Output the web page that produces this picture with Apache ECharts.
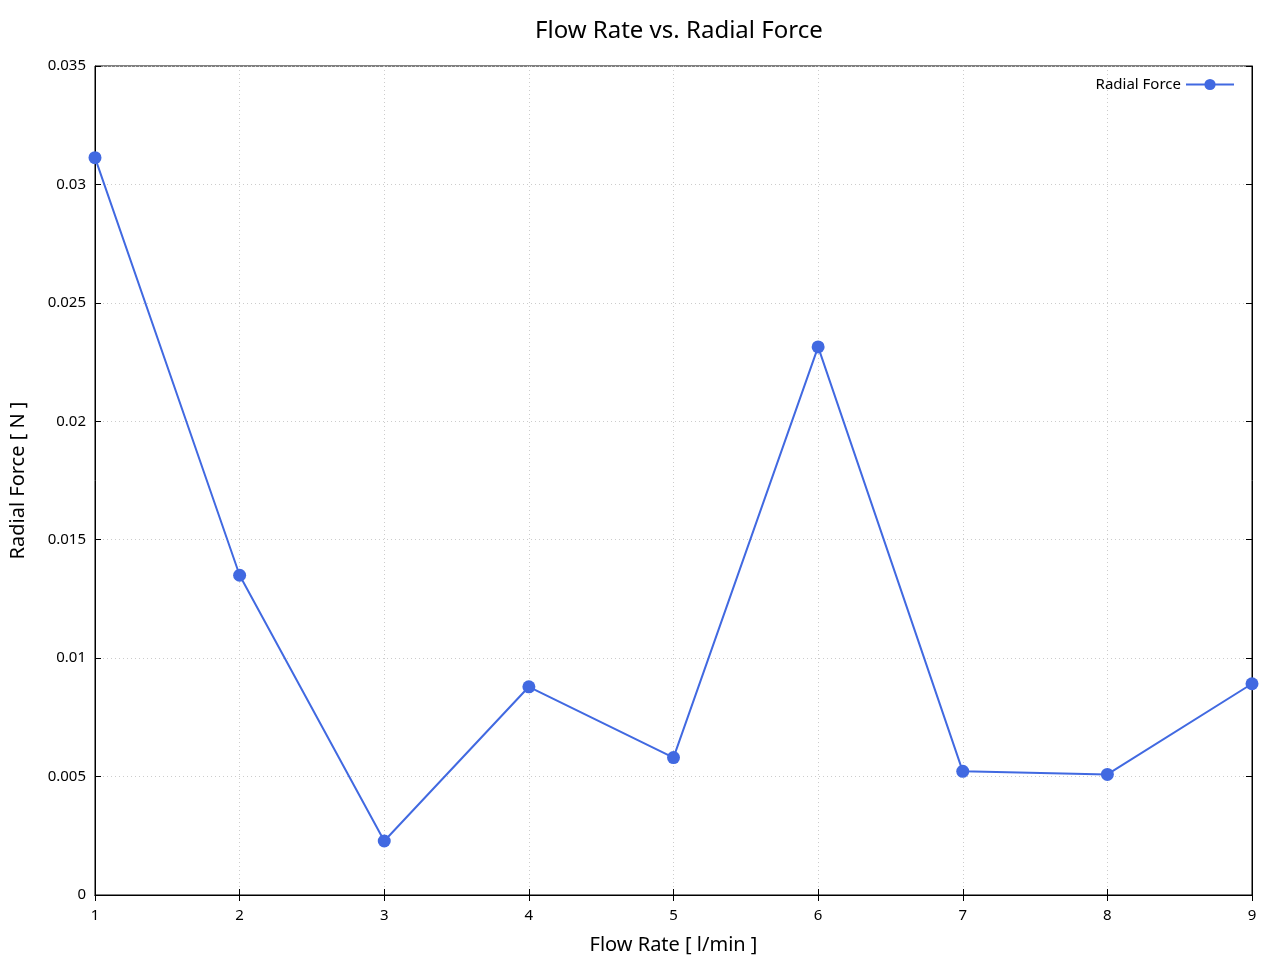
<!DOCTYPE html>
<html>
<head>
<meta charset="utf-8">
<script src="https://cdn.jsdelivr.net/npm/echarts@6/dist/echarts.min.js"></script>
<style>html,body{margin:0;padding:0;background:#fff;overflow:hidden}#c{width:1280px;height:960px}</style>
</head>
<body>
<div id="c"></div>
<script>
const flowRates = [1, 2, 3, 4, 5, 6, 7, 8, 9];
const radialForce = [0.03113, 0.0135, 0.00228, 0.00879, 0.0058, 0.02314, 0.00522, 0.00509, 0.00892];
const FONT = '"Noto Sans", "DejaVu Sans", sans-serif';
const chart = echarts.init(document.getElementById('c'), null, {renderer: 'canvas', width: 1280, height: 960});
const tickInside = {show: true, inside: true, length: 6, lineStyle: {color: '#000', width: 1}};
chart.setOption({
  animation: false,
  backgroundColor: '#fff',
  title: {
    text: 'Flow Rate vs. Radial Force', left: 530, top: 14,
    textStyle: {fontFamily: FONT, fontSize: 24, fontWeight: 'normal', color: '#000'}
  },
  legend: {
    right: 40, top: 72, align: 'right', itemWidth: 48, itemHeight: 14, itemGap: 8,
    textStyle: {fontFamily: FONT, fontSize: 15, color: '#000'},
    data: ['Radial Force']
  },
  grid: {left: 95, right: 28, top: 66, bottom: 62, show: true, borderColor: '#000', borderWidth: 1, backgroundColor: 'transparent'},
  xAxis: [{
    type: 'value', min: 1, max: 9, interval: 1,
    name: 'Flow Rate [ l/min ]', nameLocation: 'middle', nameGap: 40,
    nameTextStyle: {fontFamily: FONT, fontSize: 20, color: '#000'},
    axisLine: {show: true, lineStyle: {color: '#000', width: 1}},
    axisTick: tickInside,
    axisLabel: {fontFamily: FONT, fontSize: 15, color: '#000', margin: 13},
    splitLine: {show: true, lineStyle: {color: '#ccc', type: [1, 3], width: 1}}
  }, {
    type: 'value', position: 'top', min: 1, max: 9, interval: 1,
    axisLine: {show: true, lineStyle: {color: '#000', width: 1}},
    axisTick: tickInside, axisLabel: {show: false}, splitLine: {show: false}
  }],
  yAxis: [{
    type: 'value', min: 0, max: 0.035, interval: 0.005,
    name: 'Radial Force [ N ]', nameLocation: 'middle', nameGap: 67,
    nameTextStyle: {fontFamily: FONT, fontSize: 20, color: '#000'},
    axisLine: {show: true, lineStyle: {color: '#000', width: 1}},
    axisTick: tickInside,
    axisLabel: {fontFamily: FONT, fontSize: 15, color: '#000', margin: 9,
      formatter: v => String(+v.toFixed(4))},
    splitLine: {show: true, lineStyle: {color: '#ccc', type: [1, 3], width: 1}}
  }, {
    type: 'value', position: 'right', min: 0, max: 0.035, interval: 0.005,
    axisLine: {show: true, lineStyle: {color: '#000', width: 1}},
    axisTick: tickInside, axisLabel: {show: false}, splitLine: {show: false}
  }],
  series: [{
    name: 'Radial Force', type: 'line',
    data: flowRates.map((x, i) => [x, radialForce[i]]),
    symbol: 'circle', symbolSize: 13,
    lineStyle: {color: '#4169e1', width: 2},
    itemStyle: {color: '#4169e1'},
    clip: false, z: 5
  }]
});
</script>
</body>
</html>
